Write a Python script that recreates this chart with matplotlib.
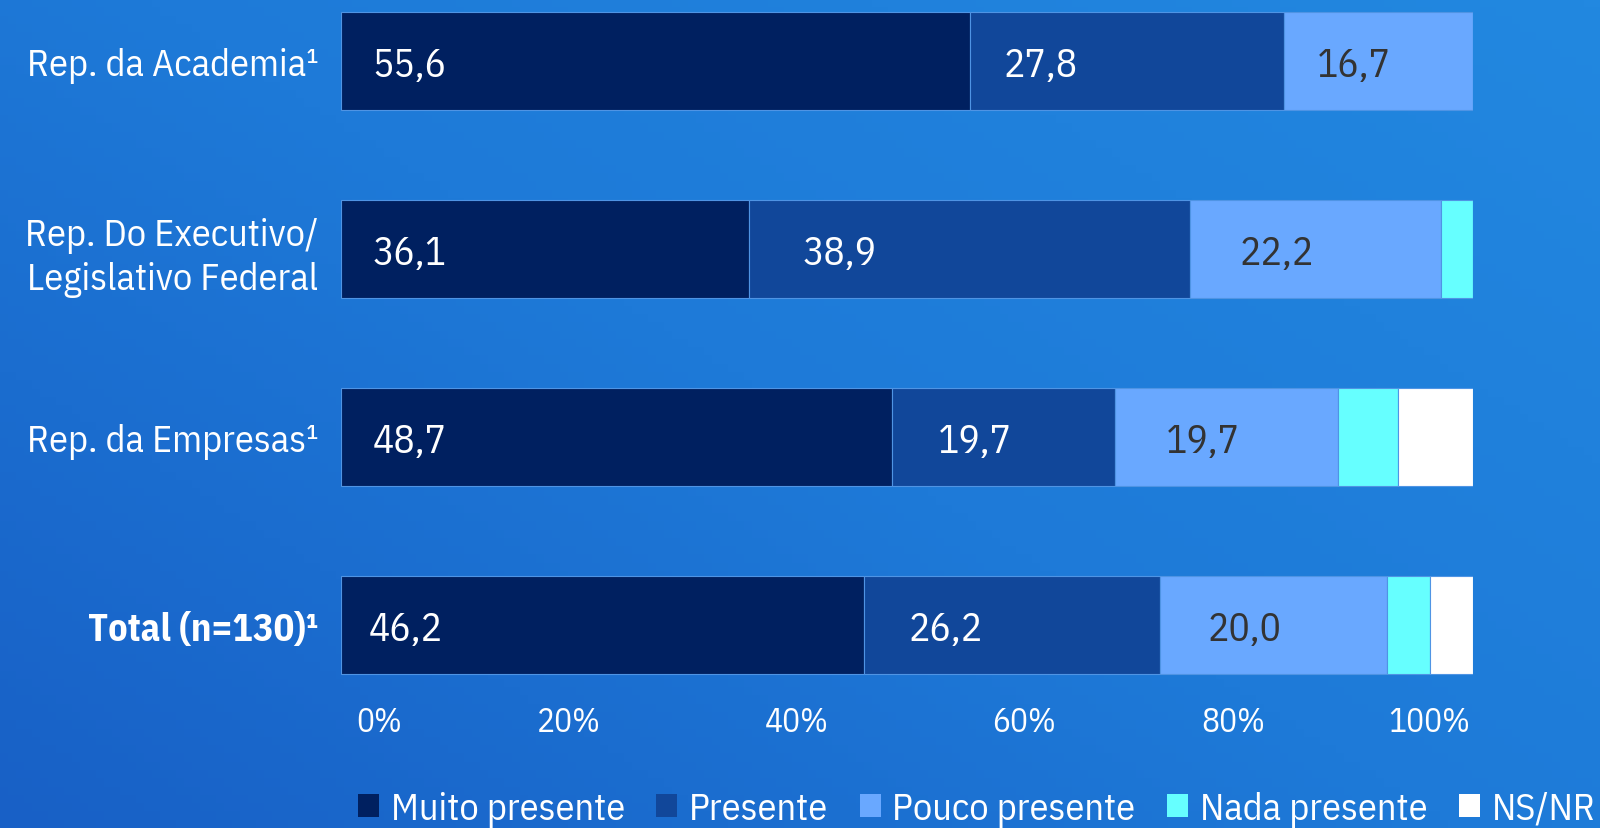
import numpy as np
import matplotlib
matplotlib.use('Agg')
import matplotlib.pyplot as plt
from matplotlib.colors import LinearSegmentedColormap
from matplotlib.transforms import ScaledTranslation

plt.rcParams['font.family'] = ['IBM Plex Sans Condensed', 'DejaVu Sans']

# dados (de baixo para cima)
categories = ['Total (n=130)¹', 'Rep. da Empresas¹',
              'Rep. Do Executivo/\nLegislativo Federal', 'Rep. da Academia¹']
series_names = ['Muito presente', 'Presente', 'Pouco presente', 'Nada presente', 'NS/NR']
muito = [46.2, 48.7, 36.1, 55.6]
presente = [26.2, 19.7, 38.9, 27.8]
pouco = [20.0, 19.7, 22.2, 16.7]
nada = [3.8, 5.3, 2.8, 0.0]
nsnr = [3.8, 6.6, 0.0, 0.0]
tick_labels = ['0%', '20%', '40%', '60%', '80%', '100%']

colors = ['#002060', '#11479a', '#69a8ff', '#66ffff', '#ffffff']
text_colors = ['white', 'white', '#333333', None, None]
# deslocamento do rotulo (px) a partir do inicio de cada segmento, por linha
label_offset = [[28, 45, 47], [32, 46, 51], [32, 53, 50], [32, 34, 33]]

fig = plt.figure(figsize=(16, 8.29), dpi=100)

# fundo em degrade
bg = fig.add_axes([0, 0, 1, 1], zorder=-1)
gx, gy = np.meshgrid(np.linspace(0, 1, 200), np.linspace(0, 1, 100))
cmap = LinearSegmentedColormap.from_list('bg', ['#1860c6', '#1e7ad8', '#2288e0'])
bg.imshow(gx * 0.55 + gy * 0.45, cmap=cmap, aspect='auto', origin='lower',
          extent=[0, 1, 0, 1])
bg.axis('off')

ax = fig.add_axes([0.213, 0.1677, 0.7075, 0.8323])
ax.patch.set_alpha(0)

data = np.array([muito, presente, pouco, nada, nsnr])
data = data / data.sum(axis=0) * 100  # grafico 100% empilhado
y = np.arange(len(categories))
left = np.zeros(len(categories))
handles = []
for i, name in enumerate(series_names):
    bars = ax.barh(y, data[i], left=left, height=0.52, color=colors[i],
                   edgecolor='#4f94e4', linewidth=0.8, label=name)
    handles.append(bars)
    if text_colors[i] is not None:
        raw = [muito, presente, pouco][i]
        for j in range(len(categories)):
            ax.annotate(f'{raw[j]:.1f}'.replace('.', ','), (left[j], y[j]),
                        xytext=(label_offset[j][i] * 0.72, -3), textcoords='offset points',
                        ha='left', va='center', fontsize=28.5, color=text_colors[i])
    left += data[i]

ax.set_xlim(0, 100)
ax.set_ylim(-0.34, 3.33)
ax.set_yticks(y)
ax.set_yticklabels(categories, fontsize=27.5, color='white', linespacing=1.3)
ax.get_yticklabels()[0].set_fontweight('bold')
ax.set_xticks(np.arange(0, 101, 20))
ax.set_xticklabels(tick_labels, fontsize=24, color='white')
ax.tick_params(axis='both', length=0)
ax.tick_params(axis='x', pad=12)
ax.tick_params(axis='y', pad=16)
shifts = [38, 2, 3, 4, -13, -44]
for lab, s in zip(ax.get_xticklabels(), shifts):
    lab.set_transform(lab.get_transform() + ScaledTranslation(s / 100, 0, fig.dpi_scale_trans))
for sp in ax.spines.values():
    sp.set_visible(False)

leg = fig.legend(handles=handles, labels=series_names, ncol=5, loc='lower left',
                 bbox_to_anchor=(0.214, -0.017), frameon=False, fontsize=27.5,
                 handlelength=0.56, handleheight=0.56, handletextpad=0.3,
                 columnspacing=0.82, labelcolor='white', borderaxespad=0)
for h in leg.legend_handles:
    h.set_edgecolor('none')

fig.savefig('out.png', dpi=100)
